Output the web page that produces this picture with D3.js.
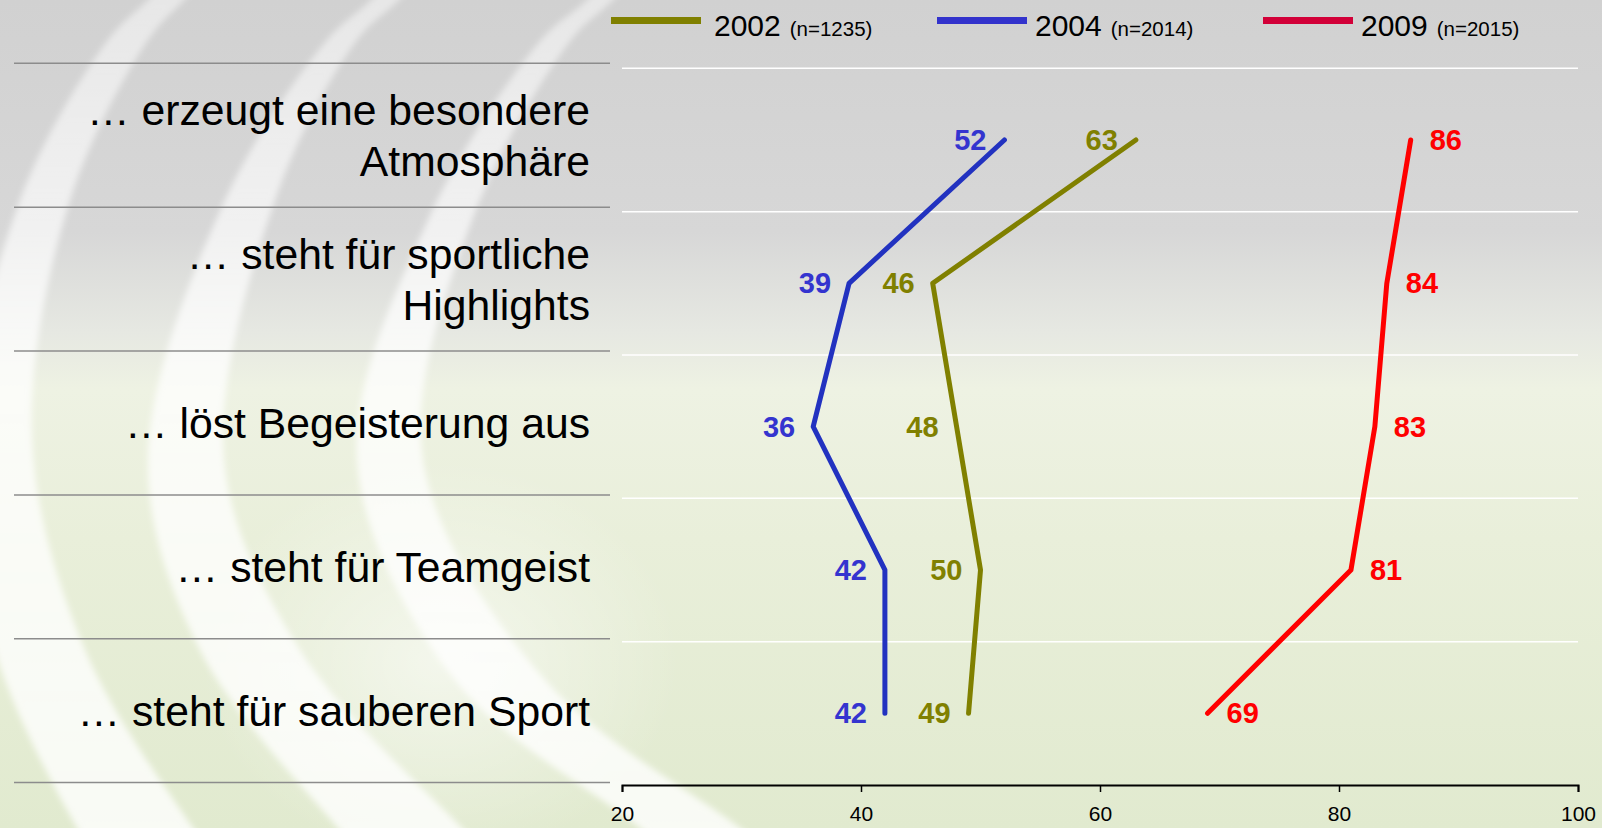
<!DOCTYPE html>
<html>
<head>
<meta charset="utf-8">
<script src="https://cdn.jsdelivr.net/npm/d3@7"></script>
<style>
  html, body { margin: 0; padding: 0; overflow: hidden; }
  svg { display: block; font-family: "Liberation Sans", Arial, Helvetica, sans-serif; }
</style>
</head>
<body>
<div id="chart"></div>
<script>
// Daten
var categories = [
  ["… erzeugt eine besondere", "Atmosphäre"],
  ["… steht für sportliche", "Highlights"],
  ["… löst Begeisterung aus"],
  ["… steht für Teamgeist"],
  ["… steht für sauberen Sport"]
];
var years = ["2002", "2004", "2009"];
var sampleSizes = ["(n=1235)", "(n=2014)", "(n=2015)"];
var values2002 = [63, 46, 48, 50, 49];
var values2004 = [52, 39, 36, 42, 42];
var values2009 = [86, 84, 83, 81, 69];
var xTicks = [20, 40, 60, 80, 100];

var series = [
  {year: years[0], n: sampleSizes[0], values: values2002, line: "#808000", label: "#808000", legend: "#808000", side: "left"},
  {year: years[1], n: sampleSizes[1], values: values2004, line: "#2232c0", label: "#3434cf", legend: "#3333cc", side: "left"},
  {year: years[2], n: sampleSizes[2], values: values2009, line: "#ff0000", label: "#ff0000", legend: "#d20038", side: "right"}
];

var W = 1602, H = 828;

var svg = d3.select("#chart").append("svg")
  .attr("width", W)
  .attr("height", H);

// Hintergrund
var defs = svg.append("defs");
var bg = defs.append("linearGradient").attr("id", "bg")
  .attr("x1", 0).attr("y1", 0).attr("x2", 0).attr("y2", 1);
[[0, "#d1d1d1"], [0.28, "#d7d7d7"], [0.40, "#e6e8e2"], [0.47, "#eef2e3"], [0.65, "#e9efda"], [1, "#e1eacf"]]
  .forEach(function(s) { bg.append("stop").attr("offset", s[0]).attr("stop-color", s[1]); });

var glow = defs.append("radialGradient").attr("id", "glow");
glow.append("stop").attr("offset", 0).attr("stop-color", "#ffffff").attr("stop-opacity", 0.55);
glow.append("stop").attr("offset", 1).attr("stop-color", "#ffffff").attr("stop-opacity", 0);

defs.append("filter").attr("id", "blur")
  .attr("x", "-20%").attr("y", "-20%").attr("width", "140%").attr("height", "140%")
  .append("feGaussianBlur").attr("stdDeviation", 3);

var vfade = defs.append("linearGradient").attr("id", "vfade")
  .attr("x1", 0).attr("y1", 0).attr("x2", 0).attr("y2", 1);
vfade.append("stop").attr("offset", 0).attr("stop-color", "#ffffff").attr("stop-opacity", 0.45);
vfade.append("stop").attr("offset", 0.45).attr("stop-color", "#ffffff").attr("stop-opacity", 0.75);
vfade.append("stop").attr("offset", 1).attr("stop-color", "#ffffff").attr("stop-opacity", 0.8);

svg.append("rect").attr("width", W).attr("height", H).attr("fill", "url(#bg)");

svg.append("ellipse")
  .attr("cx", 440).attr("cy", 660).attr("rx", 240).attr("ry", 200)
  .attr("fill", "url(#glow)");

// Bögen (Dekoration): [x-Mitte, y, halbe Breite]
var bands = [
  [[215, -50, 17], [166, 0, 18], [128, 40, 20], [45, 200, 25], [0, 440, 32], [40, 650, 45], [135, 828, 58], [165, 870, 60]],
  [[430, -50, 13], [385, 0, 14], [342, 40, 15], [250, 200, 25], [186, 460, 38], [250, 650, 50], [400, 828, 62], [440, 870, 64]],
  [[645, -50, 12], [600, 0, 13], [556, 40, 15], [450, 220, 22], [390, 460, 33], [500, 680, 45], [690, 828, 50], [740, 870, 52]]
];
var band = d3.area()
  .curve(d3.curveCatmullRom)
  .y(function(p) { return p[1]; })
  .x0(function(p) { return p[0] - p[2]; })
  .x1(function(p) { return p[0] + p[2]; });
svg.append("g").attr("filter", "url(#blur)")
  .selectAll("path").data(bands).enter().append("path")
  .attr("d", band)
  .attr("fill", "url(#vfade)");

// Skalen
var x = d3.scaleLinear().domain([20, 100]).range([622, 1578]);
var y = d3.scaleBand().domain(d3.range(categories.length)).range([68.3, 785]);
var yLeft = d3.scaleBand().domain(d3.range(categories.length)).range([63.3, 782.6]);

// linke Trennlinien
var sepY = d3.range(categories.length + 1).map(function(i) {
  return i < categories.length ? yLeft(i) : yLeft.range()[1];
});
svg.append("g").selectAll("line").data(sepY).enter().append("line")
  .attr("x1", 14).attr("x2", 610)
  .attr("y1", function(d) { return d; }).attr("y2", function(d) { return d; })
  .attr("stroke", "#8c8c8c").attr("stroke-width", 1.5);

// weisse Gitterlinien
svg.append("g").selectAll("line").data(d3.range(categories.length)).enter().append("line")
  .attr("x1", x.range()[0]).attr("x2", x.range()[1])
  .attr("y1", function(d) { return y(d); }).attr("y2", function(d) { return y(d); })
  .attr("stroke", "#ffffff").attr("stroke-width", 1.5);

// Kategorien
var catText = svg.append("g").selectAll("text").data(categories).enter().append("text")
  .attr("text-anchor", "end")
  .attr("font-size", 42.7)
  .attr("fill", "#000");
catText.each(function(lines, i) {
  var cy = yLeft(i) + yLeft.bandwidth() / 2 + 15.3;
  var t = d3.select(this);
  lines.forEach(function(s, j) {
    t.append("tspan")
      .attr("x", 590)
      .attr("y", cy + (j - (lines.length - 1) / 2) * 50.6)
      .text(s);
  });
});

// Achse
var axis = svg.append("g")
  .attr("transform", "translate(0,785)")
  .call(d3.axisBottom(x).tickValues(xTicks).tickSize(7).tickPadding(14).tickSizeOuter(7));
axis.select(".domain").attr("stroke", "#000").attr("stroke-width", 2);
axis.selectAll(".tick line").attr("stroke", "#000").attr("stroke-width", 1.5);
axis.selectAll(".tick text")
  .attr("font-family", "Liberation Sans, Arial, sans-serif")
  .attr("font-size", 21).attr("fill", "#000");

// Linien
var line = d3.line()
  .x(function(d) { return x(d); })
  .y(function(d, i) { return y(i) + y.bandwidth() / 2; });

svg.append("g").selectAll("path").data(series).enter().append("path")
  .attr("d", function(s) { return line(s.values); })
  .attr("fill", "none")
  .attr("stroke", function(s) { return s.line; })
  .attr("stroke-width", 5)
  .attr("stroke-linejoin", "round")
  .attr("stroke-linecap", "round");

// Werte
series.forEach(function(s) {
  svg.append("g").selectAll("text").data(s.values).enter().append("text")
    .attr("x", function(d) { return s.side === "left" ? x(d) - 18 : x(d) + 19; })
    .attr("y", function(d, i) { return y(i) + y.bandwidth() / 2 + 10; })
    .attr("text-anchor", s.side === "left" ? "end" : "start")
    .attr("font-size", 29)
    .attr("font-weight", "bold")
    .attr("fill", s.label)
    .text(function(d) { return d; });
});

// Legende
var legendX = [611, 937, 1263];
var leg = svg.append("g").selectAll("g").data(series).enter().append("g")
  .attr("transform", function(d, i) { return "translate(" + legendX[i] + ",0)"; });
leg.append("rect")
  .attr("x", 0).attr("y", 17).attr("width", 90).attr("height", 7)
  .attr("fill", function(d) { return d.legend; });
var lt = leg.append("text")
  .attr("x", function(d, i) { return i === 0 ? 103 : 98; })
  .attr("y", 36)
  .attr("fill", "#000");
lt.append("tspan").attr("font-size", 30).text(function(d) { return d.year; });
lt.append("tspan").attr("font-size", 20.5).attr("dx", 9).text(function(d) { return d.n; });
</script>
</body>
</html>
